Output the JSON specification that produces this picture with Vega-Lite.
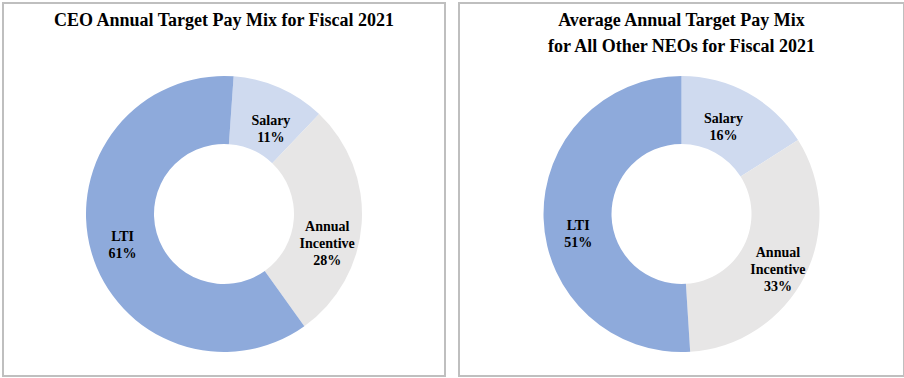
{
  "$schema": "https://vega.github.io/schema/vega-lite/v6.json",
  "background": "white",
  "padding": {"left": 2, "top": 2, "right": 2, "bottom": 2},
  "spacing": 12,
  "config": {
    "view": {"stroke": "#bfbfbf", "strokeWidth": 2},
    "font": "Liberation Serif",
    "title": {"font": "Liberation Serif", "fontSize": 18, "fontWeight": "bold", "color": "#000000", "anchor": "middle", "frame": "group", "baseline": "top", "lineHeight": 26}
  },
  "datasets": {
    "ceo": [
      {"component": "Salary", "pct": 11, "order": 1, "label": "Salary\n11%"},
      {"component": "Annual Incentive", "pct": 28, "order": 2, "label": "Annual\nIncentive\n28%"},
      {"component": "LTI", "pct": 61, "order": 3, "label": "LTI\n61%"}
    ],
    "neo": [
      {"component": "Salary", "pct": 16, "order": 1, "label": "Salary\n16%"},
      {"component": "Annual Incentive", "pct": 33, "order": 2, "label": "Annual\nIncentive\n33%"},
      {"component": "LTI", "pct": 51, "order": 3, "label": "LTI\n51%"}
    ]
  },
  "hconcat": [
    {
      "width": 442,
      "height": 373,
      "view": {"stroke": "#bfbfbf", "strokeWidth": 2},
      "title": {"text": "CEO Annual Target Pay Mix for Fiscal 2021", "offset": -27},
      "data": {"name": "ceo"},
      "resolve": {"scale": {"theta": "independent"}},
      "layer": [
        {
          "mark": {"type": "arc", "innerRadius": 70, "outerRadius": 138, "y": {"expr": "height/2 + 24.5"}},
          "encoding": {
            "theta": {"field": "pct", "type": "quantitative", "stack": true, "scale": {"range": [0.0698, 6.353]}},
            "order": {"field": "order", "type": "quantitative"},
            "color": {"field": "component", "type": "nominal", "legend": null,
              "scale": {"domain": ["Salary", "Annual Incentive", "LTI"], "range": ["#cfdaef", "#e7e6e6", "#8eaadb"]}}
          }
        },
        {
          "mark": {"type": "text", "radius": 104, "y": {"expr": "height/2 + 24.5"}, "font": "Liberation Serif", "fontSize": 14, "fontWeight": "bold", "lineHeight": 17, "lineBreak": "\n", "color": "#000000", "align": "center", "baseline": "middle"},
          "encoding": {
            "theta": {"field": "pct", "type": "quantitative", "stack": true, "scale": {"range": [0.1222, 6.4054]}},
            "order": {"field": "order", "type": "quantitative"},
            "text": {"field": "label", "type": "nominal"}
          }
        }
      ]
    },
    {
      "width": 445,
      "height": 373,
      "view": {"stroke": "#bfbfbf", "strokeWidth": 2},
      "title": {"text": ["Average Annual Target Pay Mix", "for All Other NEOs for Fiscal 2021"], "offset": -53},
      "data": {"name": "neo"},
      "resolve": {"scale": {"theta": "independent"}},
      "layer": [
        {
          "mark": {"type": "arc", "innerRadius": 70, "outerRadius": 138, "y": {"expr": "height/2 + 24.5"}},
          "encoding": {
            "theta": {"field": "pct", "type": "quantitative", "stack": true},
            "order": {"field": "order", "type": "quantitative"},
            "color": {"field": "component", "type": "nominal", "legend": null,
              "scale": {"domain": ["Salary", "Annual Incentive", "LTI"], "range": ["#cfdaef", "#e7e6e6", "#8eaadb"]}}
          }
        },
        {
          "mark": {"type": "text", "radius": 104, "y": {"expr": "height/2 + 24.5"}, "font": "Liberation Serif", "fontSize": 14, "fontWeight": "bold", "lineHeight": 17, "lineBreak": "\n", "color": "#000000", "align": "center", "baseline": "middle"},
          "encoding": {
            "theta": {"field": "pct", "type": "quantitative", "stack": true, "scale": {"range": [-0.0873, 6.1959]}},
            "order": {"field": "order", "type": "quantitative"},
            "text": {"field": "label", "type": "nominal"}
          }
        }
      ]
    }
  ]
}
